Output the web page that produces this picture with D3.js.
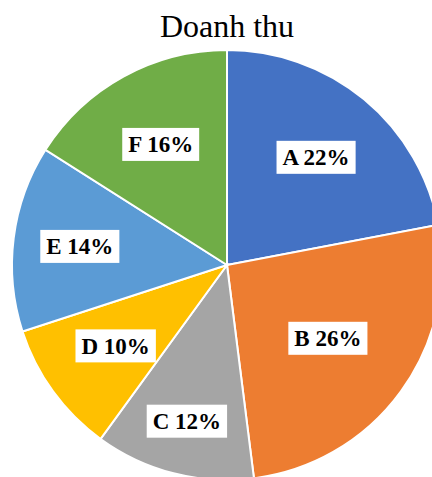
<!DOCTYPE html>
<html>
<head>
<meta charset="utf-8">
<script src="https://cdn.jsdelivr.net/npm/d3@7"></script>
<style>
  body { margin: 0; background: #fff; }
  svg { display: block; }
  svg text { font-family: 'Liberation Serif', 'Times New Roman', 'DejaVu Serif', serif; }
</style>
</head>
<body>
<div id="chart"></div>
<script>
// data
const categories = ['A', 'B', 'C', 'D', 'E', 'F'];
const values = [22, 26, 12, 10, 14, 16];
const colors = ['#4472C4', '#ED7D31', '#A5A5A5', '#FFC000', '#5B9BD5', '#70AD47'];
// label distance from centre (fraction of radius), Excel best-fit look
const labelDist = [0.65, 0.58, 0.75, 0.64, 0.69, 0.64];

const width = 432;
const height = 477;
const cx = 227, cy = 265;
const radius = 215;

const svg = d3.select('#chart')
  .append('svg')
  .attr('width', width)
  .attr('height', height);

// Title
svg.append('text')
  .attr('x', cx)
  .attr('y', 37)
  .attr('text-anchor', 'middle')
  .style('font-size', '32px')
  .style('fill', '#000')
  .text('Doanh thu');

const g = svg.append('g')
  .attr('transform', `translate(${cx},${cy})`);

const data = categories.map((c, i) => ({ category: c, value: values[i], i: i }));

const pie = d3.pie()
  .value(d => d.value)
  .sort(null);

const arc = d3.arc()
  .innerRadius(0)
  .outerRadius(radius);

const arcs = g.selectAll('.arc')
  .data(pie(data))
  .enter().append('g')
  .attr('class', 'arc');

arcs.append('path')
  .attr('d', arc)
  .attr('fill', d => colors[d.data.i])
  .attr('stroke', '#fff')
  .attr('stroke-width', 2);

// Labels with white boxes
const labels = g.selectAll('.label')
  .data(pie(data))
  .enter().append('g')
  .attr('class', 'label')
  .attr('transform', d => {
    const r = radius * labelDist[d.data.i];
    const a = (d.startAngle + d.endAngle) / 2;
    return `translate(${r * Math.sin(a)},${-r * Math.cos(a)})`;
  });

labels.append('rect')
  .attr('fill', '#fff');

labels.append('text')
  .attr('text-anchor', 'middle')
  .attr('dy', '0.35em')
  .style('font-weight', 'bold')
  .style('font-size', '23px')
  .style('fill', '#000')
  .text(d => `${d.data.category} ${d.data.value}%`);

labels.each(function() {
  const t = d3.select(this).select('text').node().getBBox();
  d3.select(this).select('rect')
    .attr('x', t.x - 6)
    .attr('y', -16.5)
    .attr('width', t.width + 12)
    .attr('height', 33);
});
</script>
</body>
</html>
